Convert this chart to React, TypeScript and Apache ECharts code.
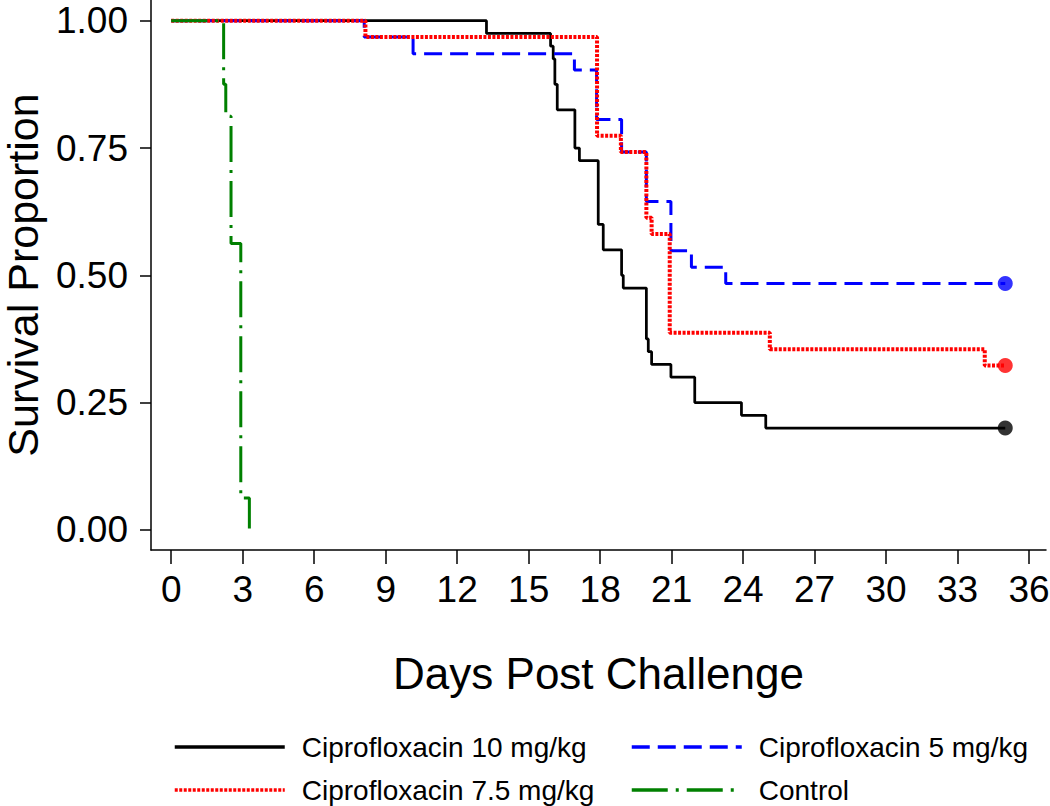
import React, { useEffect, useRef } from "react";
import * as echarts from "echarts";

// Tick labels
const xTicks = [0, 3, 6, 9, 12, 15, 18, 21, 24, 27, 30, 33, 36];
const yTicks = [0, 0.25, 0.5, 0.75, 1];

// Series names
const names = [
  "Ciprofloxacin 10 mg/kg",
  "Ciprofloxacin 5 mg/kg",
  "Ciprofloxacin 7.5 mg/kg",
  "Control",
];

// Kaplan–Meier step data: day of drop and survival after drop
const days10 = [0, 13.23, 15.92, 16.03, 16.1, 16.2, 16.94, 17.13, 17.92, 18.13, 18.9, 18.97, 19.94, 20.02, 20.16, 20.97, 21.97, 23.93, 24.95, 35];
const surv10 = [1, 0.975, 0.95, 0.925, 0.875, 0.825, 0.75, 0.725, 0.6, 0.55, 0.5, 0.475, 0.375, 0.35, 0.325, 0.3, 0.25, 0.225, 0.2, 0.2];

const days5 = [0, 8.1, 10.15, 16.92, 17.85, 18.9, 19.94, 20.97, 21.83, 23.27, 35];
const surv5 = [1, 0.968, 0.935, 0.903, 0.806, 0.742, 0.645, 0.548, 0.516, 0.484, 0.484];

const days75 = [0, 8.15, 17.87, 18.87, 19.94, 20.16, 20.92, 25.12, 34.14, 35];
const surv75 = [1, 0.968, 0.774, 0.742, 0.613, 0.581, 0.387, 0.355, 0.323, 0.323];

const daysCtl = [0, 2.2, 2.29, 2.51, 2.92, 3.28];
const survCtl = [1, 0.875, 0.8125, 0.5625, 0.0625, 0];

const endDay = 35;

const colors = ["#000000", "#0000ff", "#ff0000", "#008000"];

export default function App() {
  const ref = useRef<HTMLDivElement>(null);
  useEffect(() => {
    const chart = echarts.init(ref.current!, null, { renderer: "svg" });
    const font = "'Liberation Sans', Arial, sans-serif";
    const zip = (d: number[], s: number[]) => d.map((t, i) => [t, s[i]]);
    const lineSeries = (i: number, d: number[], s: number[], width: number, type: any) => ({
      name: names[i],
      type: "line",
      step: "end",
      symbol: "none",
      data: zip(d, s),
      itemStyle: { color: colors[i] },
      lineStyle: { color: colors[i], width, type, cap: "butt" },
      emphasis: { disabled: true },
    });
    const legendBase = {
      orient: "vertical",
      top: 733,
      itemWidth: 110,
      itemHeight: 28,
      itemGap: 15,
      padding: 0,
      selectedMode: false,
      textStyle: { fontSize: 28, fontFamily: font, color: "#000", padding: [0, 0, 0, 12] },
      itemStyle: { opacity: 0, borderWidth: 0 },
      lineStyle: { width: 3.5, opacity: 1 },
    };
    const option: any = {
      animation: false,
      backgroundColor: "#ffffff",
      grid: { left: 151, top: 0, width: 895, height: 550, containLabel: false, outerBoundsMode: "none" },
      xAxis: {
        type: "value",
        min: -0.848,
        max: 36.71,
        name: "Days Post Challenge",
        nameLocation: "middle",
        nameGap: 101,
        nameTextStyle: { fontSize: 44, fontFamily: font, color: "#000" },
        axisLine: { show: true, onZero: false, lineStyle: { color: "#000", width: 1.5 } },
        axisTick: { show: true, length: 14, customValues: xTicks, lineStyle: { color: "#000", width: 1.5 } },
        axisLabel: { customValues: xTicks, fontSize: 37, fontFamily: font, color: "#000", margin: 21 },
        splitLine: { show: false },
      },
      yAxis: {
        type: "value",
        min: -0.0395,
        max: 1.0407,
        name: "Survival Proportion",
        nameLocation: "middle",
        nameGap: 108,
        nameTextStyle: { fontSize: 43, lineHeight: 40, fontFamily: font, color: "#000" },
        axisLine: { show: true, onZero: false, lineStyle: { color: "#000", width: 1.5 } },
        axisTick: { show: true, length: 11, customValues: yTicks, lineStyle: { color: "#000", width: 1.5 } },
        axisLabel: {
          customValues: yTicks,
          fontSize: 37,
          fontFamily: font,
          color: "#000",
          margin: 23,
          formatter: (v: number) => v.toFixed(2),
        },
        splitLine: { show: false },
      },
      legend: [
        { ...legendBase, left: 173, data: [names[0], names[2]] },
        { ...legendBase, left: 630, data: [names[1], names[3]] },
      ],
      series: [
        lineSeries(0, days10, surv10, 2.75, "solid"),
        lineSeries(1, days5, surv5, 3, [18, 8]),
        lineSeries(2, days75, surv75, 4, [3, 1.5]),
        lineSeries(3, daysCtl, survCtl, 3, [36, 8, 3, 8]),
        {
          name: "censored",
          type: "scatter",
          symbol: "circle",
          symbolSize: 15,
          z: 5,
          data: [
            { value: [endDay, surv10[surv10.length - 1]], itemStyle: { color: colors[0] } },
            { value: [endDay, surv5[surv5.length - 1]], itemStyle: { color: colors[1] } },
            { value: [endDay, surv75[surv75.length - 1]], itemStyle: { color: colors[2] } },
          ],
          emphasis: { disabled: true },
        },
      ],
    };
    chart.setOption(option);
    return () => chart.dispose();
  }, []);
  return (
    <div
      ref={ref}
      style={{ position: "fixed", left: 0, top: 0, width: 1050, height: 806 }}
    />
  );
}
